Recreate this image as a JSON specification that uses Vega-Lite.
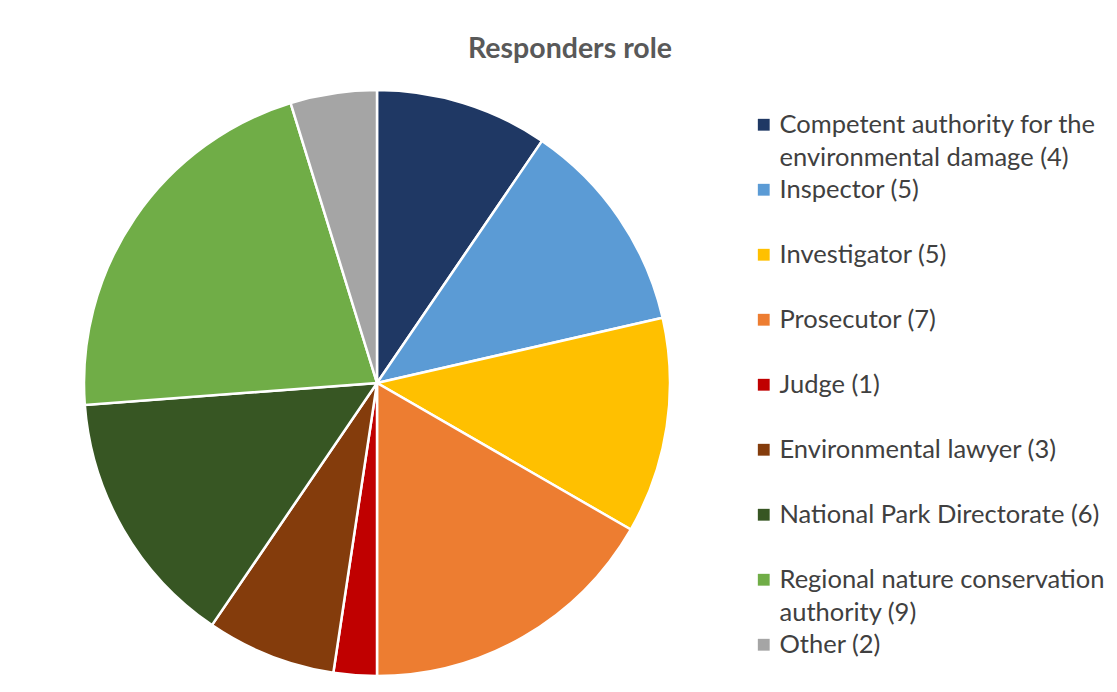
{
  "$schema": "https://vega.github.io/schema/vega-lite/v6.json",
  "width": 586,
  "height": 586,
  "autosize": {"type": "none"},
  "padding": {"left": 84, "top": 90, "right": 447, "bottom": 16},
  "background": "white",
  "title": {"text": "Responders role", "font": "Lato", "fontSize": 28.5, "fontWeight": "bold", "color": "#595959", "anchor": "middle", "dx": 193, "offset": 22},
  "data": {"values": [
    {"idx": 1, "role": "Competent authority for the environmental damage (4)", "count": 4},
    {"idx": 2, "role": "Inspector (5)", "count": 5},
    {"idx": 3, "role": "Investigator (5)", "count": 5},
    {"idx": 4, "role": "Prosecutor (7)", "count": 7},
    {"idx": 5, "role": "Judge (1)", "count": 1},
    {"idx": 6, "role": "Environmental lawyer (3)", "count": 3},
    {"idx": 7, "role": "National Park Directorate (6)", "count": 6},
    {"idx": 8, "role": "Regional nature conservation authority (9)", "count": 9},
    {"idx": 9, "role": "Other (2)", "count": 2}
  ]},
  "mark": {"type": "arc", "radius": 293, "stroke": "white", "strokeWidth": 2.5},
  "encoding": {
    "theta": {"field": "count", "type": "quantitative", "stack": true},
    "order": {"field": "idx", "type": "quantitative"},
    "color": {
      "field": "role", "type": "nominal", "sort": null,
      "scale": {
        "domain": ["Competent authority for the environmental damage (4)", "Inspector (5)", "Investigator (5)", "Prosecutor (7)", "Judge (1)", "Environmental lawyer (3)", "National Park Directorate (6)", "Regional nature conservation authority (9)", "Other (2)"],
        "range": ["#1f3864", "#5b9bd5", "#ffc000", "#ed7d31", "#c00000", "#843c0c", "#375623", "#70ad47", "#a5a5a5"]
      },
      "legend": {
        "title": null,
        "orient": "none",
        "legendX": 667,
        "legendY": 22,
        "symbolType": "square",
        "symbolSize": 140,
        "symbolStrokeWidth": 0,
        "labelFont": "Lato",
        "labelFontSize": 25.5,
        "labelColor": "#404040",
        "labelLimit": 450,
        "labelOffset": 3,
        "gridAlign": "all",
        "rowPadding": 5,
        "labelExpr": "datum.label == 'Competent authority for the environmental damage (4)' ? ['Competent authority for the', 'environmental damage (4)'] : datum.label == 'Regional nature conservation authority (9)' ? ['Regional nature conservation', 'authority (9)'] : datum.label"
      }
    }
  },
  "config": {"view": {"stroke": null}, "style": {"guide-label": {"lineHeight": 33}}}
}
